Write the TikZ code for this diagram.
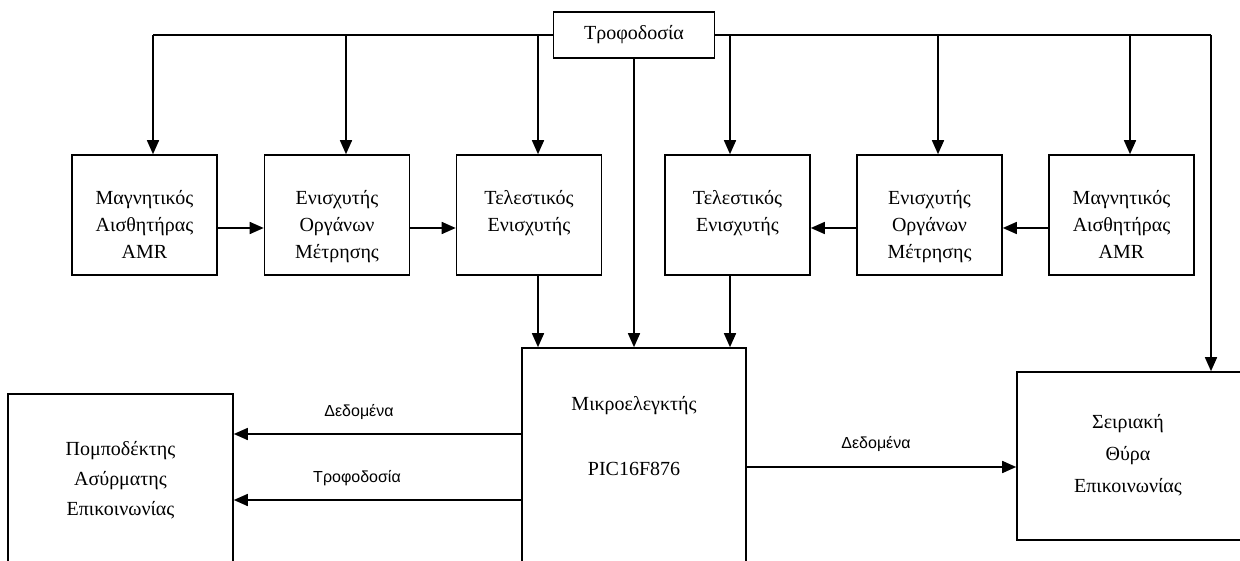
\documentclass[tikz,border=0pt]{standalone}
\usepackage{fontspec}
\setmainfont{Liberation Serif}
\newfontfamily\lblfont{Liberation Sans}
\usetikzlibrary{arrows.meta,calc}
\begin{document}
\begin{tikzpicture}[x=1pt,y=-1pt,
  line width=1.6pt,
  arr/.style={-{Triangle[length=14pt,width=12pt]}},
  boxnode/.style={draw, rectangle, inner sep=0pt},
  topbox/.style={boxnode, minimum width=145pt, minimum height=120pt},
  txtA/.style={anchor=north, align=center, inner sep=0pt, font=\fontsize{20}{27}\selectfont},
  txtB/.style={anchor=north, align=center, inner sep=0pt, font=\fontsize{20}{30}\selectfont},
  txtC/.style={anchor=north, align=center, inner sep=0pt, font=\fontsize{20}{32}\selectfont},
  lbl/.style={inner sep=0pt, font=\lblfont\fontsize{16}{18}\selectfont}
]
\useasboundingbox (0,0) rectangle (1240,561);
\fill[white] (0,0) rectangle (1240,561);
\clip (0,0) rectangle (1240,561);

% power box
\node[boxnode, minimum width=161pt, minimum height=46pt, font=\fontsize{20}{24}\selectfont] (P) at (634,35) {Τροφοδοσία};

% top boxes
\node[topbox] (b1) at (144.5,215) {};
\node[topbox] (b2) at (337,215) {};
\node[topbox] (b3) at (529,215) {};
\node[topbox] (b4) at (737.5,215) {};
\node[topbox] (b5) at (929.5,215) {};
\node[topbox] (b6) at (1121.5,215) {};

\node[txtA] (t1) at (144.5,188.5) {\rule{0pt}{15pt}Μαγνητικός\\Αισθητήρας\\AMR};
\node[txtA] (t2) at (337,188.5) {\rule{0pt}{15pt}Ενισχυτής\\Οργάνων\\Μέτρησης};
\node[txtA] (t3) at (529,188.5) {\rule{0pt}{15pt}Τελεστικός\\Ενισχυτής};
\node[txtA] (t4) at (737.5,188.5) {\rule{0pt}{15pt}Τελεστικός\\Ενισχυτής};
\node[txtA] (t5) at (929.5,188.5) {\rule{0pt}{15pt}Ενισχυτής\\Οργάνων\\Μέτρησης};
\node[txtA] (t6) at (1121.5,188.5) {\rule{0pt}{15pt}Μαγνητικός\\Αισθητήρας\\AMR};

% bottom boxes
\node[boxnode, minimum width=224pt, minimum height=272pt] (mc) at (634,484) {};
\node[anchor=base, inner sep=0pt, font=\fontsize{20}{24}\selectfont] (mct1) at (634,410) {Μικροελεγκτής};
\node[anchor=base, inner sep=0pt, font=\fontsize{20}{24}\selectfont] (mct2) at (634,475) {PIC16F876};

\node[boxnode, minimum width=225pt, minimum height=226pt] (pt) at (120.5,507) {};
\node[txtB] (ptt) at (120.5,440) {\rule{0pt}{15pt}Πομποδέκτης\\Ασύρματης\\Επικοινωνίας};

\node[boxnode, minimum width=243pt, minimum height=168pt] (sp) at (1138.5,456) {};
\node[txtC] (spt) at (1128,413) {\rule{0pt}{15pt}Σειριακή\\Θύρα\\Επικοινωνίας};

% coordinates for drop lines
\coordinate (x1) at (153,35);
\coordinate (x2) at (346,35);
\coordinate (x3) at (538,35);
\coordinate (x4) at (730,35);
\coordinate (x5) at (938,35);
\coordinate (x6) at (1130,35);
\coordinate (x7) at (1211,35);
\coordinate (hr) at (0,228);
\coordinate (la) at (0,434);
\coordinate (lb) at (0,500);
\coordinate (ra) at (0,467);

% bus
\draw (P.west) -- (x1);
\draw (P.east) -- (x7);
\draw[arr] (x1) -- (x1 |- b1.north);
\draw[arr] (x2) -- (x2 |- b2.north);
\draw[arr] (x3) -- (x3 |- b3.north);
\draw[arr] (x4) -- (x4 |- b4.north);
\draw[arr] (x5) -- (x5 |- b5.north);
\draw[arr] (x6) -- (x6 |- b6.north);
\draw[arr] (x7) -- (x7 |- sp.north);
\draw[arr] (P.south) -- (P.south |- mc.north);

% chain arrows
\draw[arr] (b1.east |- hr) -- (b2.west |- hr);
\draw[arr] (b2.east |- hr) -- (b3.west |- hr);
\draw[arr] (b6.west |- hr) -- (b5.east |- hr);
\draw[arr] (b5.west |- hr) -- (b4.east |- hr);

% into microcontroller
\draw[arr] (x3 |- b3.south) -- (x3 |- mc.north);
\draw[arr] (x4 |- b4.south) -- (x4 |- mc.north);

% microcontroller outputs
\draw[arr] (mc.west |- la) -- (pt.east |- la);
\draw[arr] (mc.west |- lb) -- (pt.east |- lb);
\draw[arr] (mc.east |- ra) -- (sp.west |- ra);

\node[lbl] (l1) at (359,412) {Δεδομένα};
\node[lbl] (l2) at (357,478) {Τροφοδοσία};
\node[lbl] (l3) at (876,444) {Δεδομένα};
\end{tikzpicture}
\end{document}
